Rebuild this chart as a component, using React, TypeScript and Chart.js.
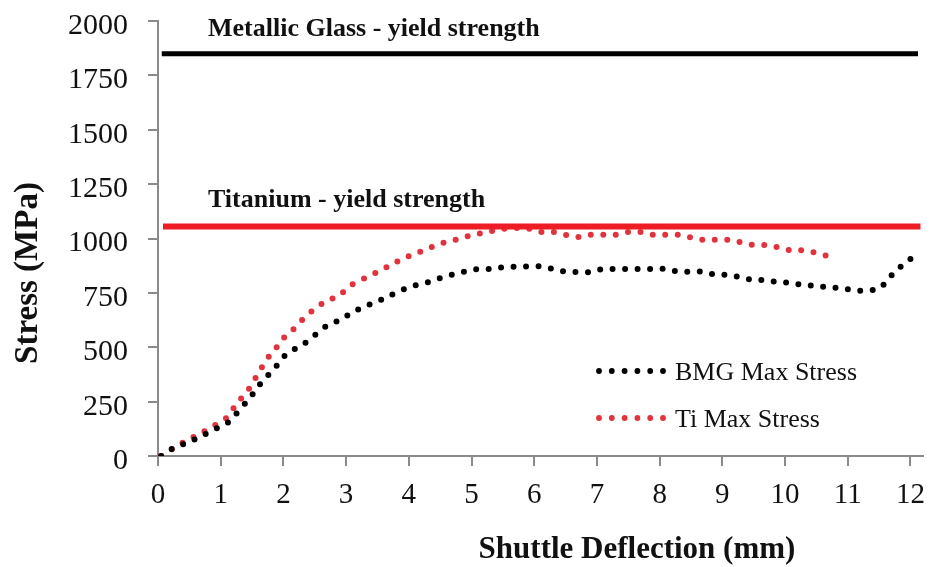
import { useEffect, useRef } from "react";
import { Chart, registerables } from "chart.js";

Chart.register(...registerables);

const xTickValues = [0, 1, 2, 3, 4, 5, 6, 7, 8, 9, 10, 11, 12];
const yTickValues = [0, 250, 500, 750, 1000, 1250, 1500, 1750, 2000];

const bmgX = [0.05, 0.25, 0.5, 0.7, 0.9, 1.1, 1.25, 1.4, 1.5, 1.6, 1.7, 1.85, 2.0, 2.1, 2.3, 2.5, 2.7, 2.9, 3.1, 3.3, 3.5, 3.7, 3.9, 4.1, 4.3, 4.5, 4.7, 4.9, 5.1, 5.3, 5.5, 5.7, 5.9, 6.1, 6.3, 6.5, 6.7, 6.9, 7.1, 7.3, 7.5, 7.7, 7.9, 8.1, 8.3, 8.5, 8.7, 8.9, 9.1, 9.3, 9.5, 9.7, 9.9, 10.1, 10.3, 10.5, 10.7, 10.9, 11.1, 11.3, 11.5, 11.65, 11.8, 11.95, 12.05];
const bmgY = [0, 37, 65, 93, 122, 150, 195, 245, 280, 320, 355, 400, 455, 480, 510, 555, 600, 625, 660, 688, 710, 738, 764, 784, 798, 818, 835, 849, 860, 860, 868, 870, 872, 872, 860, 847, 846, 846, 860, 860, 860, 860, 860, 860, 847, 847, 847, 833, 833, 821, 809, 809, 798, 797, 784, 784, 773, 773, 761, 761, 770, 815, 862, 890, 925];

const tiX = [0.05, 0.25, 0.45, 0.65, 0.9, 1.1, 1.25, 1.4, 1.5, 1.6, 1.7, 1.8, 1.9, 2.0, 2.1, 2.3, 2.45, 2.65, 2.9, 3.05, 3.3, 3.5, 3.7, 3.9, 4.1, 4.3, 4.5, 4.7, 4.9, 5.1, 5.3, 5.5, 5.7, 5.9, 6.1, 6.3, 6.5, 6.7, 6.9, 7.1, 7.3, 7.5, 7.7, 7.9, 8.1, 8.3, 8.5, 8.7, 8.9, 9.1, 9.3, 9.5, 9.7, 9.9, 10.1, 10.3, 10.5, 10.7];
const tiY = [0, 37, 70, 100, 140, 178, 239, 289, 330, 381, 427, 470, 503, 542, 565, 626, 665, 707, 741, 780, 818, 846, 876, 907, 930, 953, 976, 990, 1007, 1021, 1033, 1044, 1048, 1046, 1030, 1030, 1017, 1007, 1017, 1017, 1017, 1030, 1030, 1017, 1017, 1017, 1005, 994, 994, 994, 982, 970, 970, 958, 945, 945, 933, 918];

const glassYield = 1850;
const tiYield = 1055;
const glassLineX = [0.06, 12.12];
const tiLineX = [0.08, 12.16];

const glassLabel = "Metallic Glass - yield strength";
const tiLabel = "Titanium - yield strength";
const seriesNames = ["BMG Max Stress", "Ti Max Stress"];
const xTitle = "Shuttle Deflection (mm)";
const yTitle = "Stress (MPa)";

const FONT = '"Liberation Serif", "Times New Roman", serif';
const DOT_RED = "#e1333d";
const LINE_RED = "#ee1c25";
const AXIS_GREY = "#8a8a8a";

const pts = (xs: number[], ys: number[]) => xs.map((x, i) => ({ x, y: ys[i] }));

export default function App() {
  const ref = useRef<HTMLCanvasElement | null>(null);

  useEffect(() => {
    document.body.style.margin = "0";
    const canvas = ref.current;
    if (!canvas) return;

    const textPlugin = {
      id: "textPlugin",
      afterDraw(chart: any) {
        const ctx = chart.ctx;
        const ys = chart.scales.y;
        ctx.save();
        ctx.fillStyle = "#111";
        ctx.font = `bold 26px ${FONT}`;
        ctx.textAlign = "left";
        ctx.textBaseline = "alphabetic";
        ctx.fillText(glassLabel, 208, ys.getPixelForValue(glassYield) - 18);
        ctx.fillText(tiLabel, 208, ys.getPixelForValue(tiYield) - 20);
        ctx.font = `bold 31px ${FONT}`;
        ctx.textAlign = "center";
        ctx.textBaseline = "middle";
        ctx.fillText(xTitle, 637, 550);
        ctx.save();
        ctx.translate(28, 273);
        ctx.rotate(-Math.PI / 2);
        ctx.font = `bold 33px ${FONT}`;
        ctx.fillText(yTitle, 0, 0);
        ctx.restore();
        const colors = ["#000000", DOT_RED];
        const ly = [371, 418];
        ctx.font = `26px ${FONT}`;
        ctx.textAlign = "left";
        ctx.textBaseline = "middle";
        for (let k = 0; k < 2; k++) {
          ctx.fillStyle = colors[k];
          for (let i = 0; i < 6; i++) {
            ctx.beginPath();
            ctx.arc(599 + i * 12.8, ly[k], 2.9, 0, Math.PI * 2);
            ctx.fill();
          }
          ctx.fillStyle = "#111";
          ctx.fillText(seriesNames[k], 675, ly[k] + 2);
        }
        ctx.restore();
      },
    };

    const chart = new Chart(canvas, {
      type: "line",
      data: {
        datasets: [
          {
            label: "glass",
            data: pts(glassLineX, [glassYield, glassYield]),
            borderColor: "#000000",
            borderWidth: 5,
            pointRadius: 0,
          },
          {
            label: "ti-yield",
            data: pts(tiLineX, [tiYield, tiYield]),
            borderColor: LINE_RED,
            borderWidth: 6,
            pointRadius: 0,
          },
          {
            label: seriesNames[0],
            data: pts(bmgX, bmgY),
            borderColor: "#000000",
            borderWidth: 6,
            borderCapStyle: "round",
            borderDash: [0, 12.5],
            pointRadius: 0,
            tension: 0.3,
          },
          {
            label: seriesNames[1],
            data: pts(tiX, tiY),
            borderColor: DOT_RED,
            borderWidth: 6,
            borderCapStyle: "round",
            borderDash: [0, 12.5],
            pointRadius: 0,
            tension: 0.3,
          },
        ],
      },
      options: {
        responsive: false,
        animation: false,
        layout: { padding: { top: 21, right: 20, left: 0, bottom: 0 } },
        plugins: { legend: { display: false }, tooltip: { enabled: false } },
        scales: {
          x: {
            type: "linear",
            min: 0,
            max: 12.2,
            afterBuildTicks: (s: any) => {
              s.ticks = xTickValues.map((v) => ({ value: v }));
            },
            afterFit: (s: any) => {
              s.height = 111;
              s.paddingLeft = 0;
              s.paddingRight = 0;
            },
            border: { display: true, color: AXIS_GREY, width: 2 },
            grid: { display: true, drawOnChartArea: false, drawTicks: true, tickLength: 10, color: AXIS_GREY, lineWidth: 2 },
            ticks: { color: "#111", font: { family: FONT, size: 29 }, padding: 12, maxRotation: 0, autoSkip: false, callback: (v: any) => String(v) },
          },
          y: {
            type: "linear",
            min: 0,
            max: 2000,
            afterBuildTicks: (s: any) => {
              s.ticks = yTickValues.map((v) => ({ value: v }));
            },
            afterFit: (s: any) => {
              s.width = 158;
              s.paddingTop = 0;
              s.paddingBottom = 0;
            },
            border: { display: true, color: AXIS_GREY, width: 2 },
            grid: { display: true, drawOnChartArea: false, drawTicks: true, tickLength: 10, color: AXIS_GREY, lineWidth: 2 },
            ticks: { color: "#111", font: { family: FONT, size: 30 }, padding: 20, labelOffset: 5, autoSkip: false, callback: (v: any) => String(v) },
          },
        },
      },
      plugins: [textPlugin],
    } as any);

    return () => chart.destroy();
  }, []);

  return (
    <div style={{ width: 943, height: 567, background: "#fff" }}>
      <canvas ref={ref} width={943} height={567} />
    </div>
  );
}
